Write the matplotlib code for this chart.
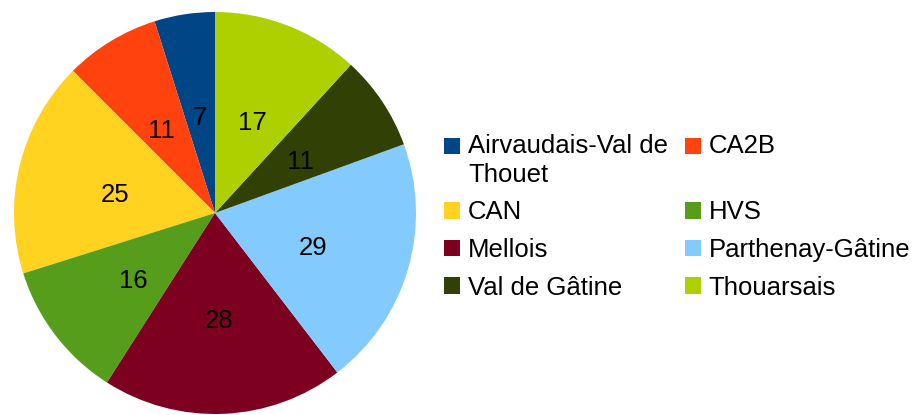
import matplotlib.pyplot as plt
import matplotlib.transforms as mtransforms
from matplotlib.patches import Patch

plt.rcParams['font.family'] = ['Liberation Sans', 'DejaVu Sans']

regions = ['Airvaudais-Val de\nThouet', 'CA2B', 'CAN', 'HVS', 'Mellois',
           'Parthenay-Gâtine', 'Val de Gâtine', 'Thouarsais']
counts = [7, 11, 25, 16, 28, 29, 11, 17]
colors = ['#004586', '#ff420e', '#ffd320', '#579d1c', '#7e0021',
          '#83caff', '#314004', '#aecf00']

fig = plt.figure(figsize=(9.15, 4.15), dpi=100)
ax = fig.add_axes([14/915, 1/415, 402/915, 402/415])

wedges, texts = ax.pie(counts, colors=colors, startangle=90, counterclock=True,
                       labels=[str(c) for c in counts], labeldistance=0.51,
                       textprops={'fontsize': 18.5, 'ha': 'center', 'va': 'center'})
# the original puts the numbers a little lower
shift = mtransforms.ScaledTranslation(0, -6/100, fig.dpi_scale_trans)
for t in texts:
    t.set_transform(t.get_transform() + shift)
ax.set_xlim(-1, 1)
ax.set_ylim(-1, 1)
ax.set_aspect('equal')

# legend, row-major order like the original (2 columns)
order = [0, 2, 4, 6, 1, 3, 5, 7]
handles = [Patch(facecolor=colors[i]) for i in order]
labels = [regions[i] for i in order]
labels[4] = 'CA2B\n '
leg = fig.legend(handles, labels, ncol=2, frameon=False, fontsize=18.5,
                 loc='upper left', bbox_to_anchor=(444/915, 1 - 134/415),
                 handlelength=0.62, handleheight=0.62, handletextpad=0.31,
                 columnspacing=0.65, labelspacing=0.53, borderpad=0, borderaxespad=0)
for t in leg.get_texts():
    t.set_linespacing(1.25)
# keep the squares of the two-line row on the first line
for k in (0, 4):
    h = leg.legend_handles[k]
    h.set_y(h.get_y() + 10.8)

fig.savefig('out.png', dpi=100)
